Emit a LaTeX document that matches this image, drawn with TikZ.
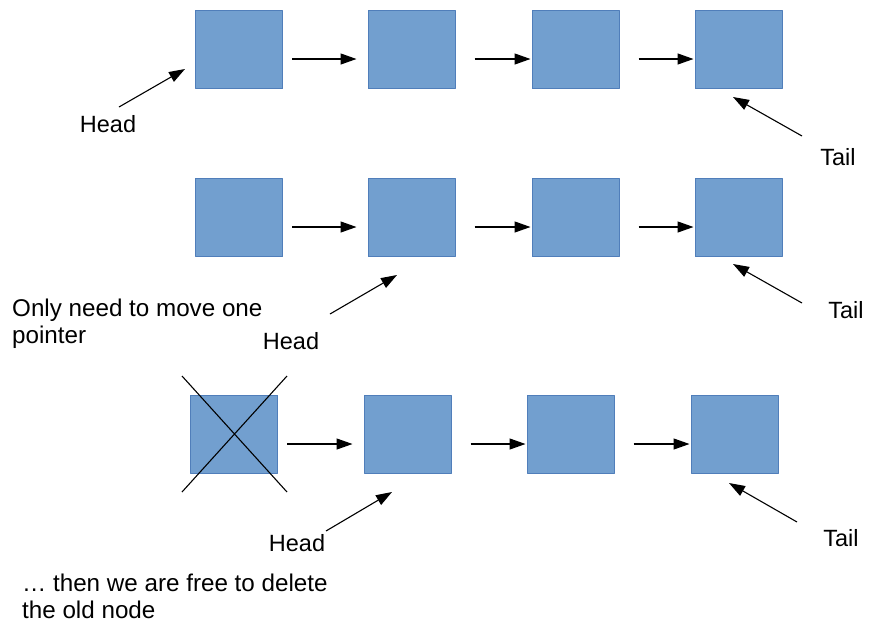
\documentclass[tikz,border=0pt]{standalone}
\usepackage{fontspec}
\setmainfont{Liberation Sans}
\usetikzlibrary{arrows.meta}
\definecolor{boxfill}{RGB}{114,159,207}
\definecolor{boxline}{RGB}{80,126,186}
\begin{document}
\begin{tikzpicture}[x=1pt, y=-1pt, font=\fontsize{23.5}{26.5}\selectfont, line join=round,
	box/.style={draw=boxline, fill=boxfill, line width=1pt, minimum width=87pt, minimum height=78pt, inner sep=0pt},
	link/.style={-{Triangle[length=16pt,width=11pt]}, line width=1.3pt, shorten <=19pt, shorten >=1pt},
	first/.style={shorten <=9pt, shorten >=11pt},
	ptr/.style={-{Triangle[length=16pt,width=11pt]}, line width=1.1pt},
	lbl/.style={inner sep=0pt},
	note/.style={inner sep=0pt, anchor=north west, align=left, font=\fontsize{24.2}{26.5}\selectfont}]
	\useasboundingbox (0,0) rectangle (870,622);
	% the three lists
	\path
	(239,49.5) node[box] (a1) {}
	(411.5,49.5) node[box] (a2) {}
	(575.5,49.5) node[box] (a3) {}
	(738.5,49.5) node[box] (a4) {}

	(239,217.5) node[box] (b1) {}
	(411.5,217.5) node[box] (b2) {}
	(575.5,217.5) node[box] (b3) {}
	(738.5,217.5) node[box] (b4) {}

	(234,434) node[box] (c1) {}
	(407.5,434) node[box] (c2) {}
	(570.5,434) node[box] (c3) {}
	(734.5,434) node[box] (c4) {};
	% next pointers
	\draw[link,first] ([yshift=-9.5pt]a1.east)--([yshift=-9.5pt]a2.west);
	\draw[link] ([yshift=-9.5pt]a2.east)--([yshift=-9.5pt]a3.west);
	\draw[link] ([yshift=-9.5pt]a3.east)--([yshift=-9.5pt]a4.west);
	\draw[link,first] ([yshift=-9.5pt]b1.east)--([yshift=-9.5pt]b2.west);
	\draw[link] ([yshift=-9.5pt]b2.east)--([yshift=-9.5pt]b3.west);
	\draw[link] ([yshift=-9.5pt]b3.east)--([yshift=-9.5pt]b4.west);
	\draw[link,first] ([yshift=-10pt]c1.east)--([yshift=-10pt]c2.west);
	\draw[link] ([yshift=-10pt]c2.east)--([yshift=-10pt]c3.west);
	\draw[link] ([yshift=-10pt]c3.east)--([yshift=-10pt]c4.west);
	% old node crossed out
	\draw[line width=1.1pt] (182,376)--(287,492) (287,376)--(182,492);
	% labels
	\path
	(108,124) node[lbl] (head1) {Head}
	(838,157) node[lbl] (tail1) {Tail}
	(291,341) node[lbl] (head2) {Head}
	(846,310) node[lbl] (tail2) {Tail}
	(297,543) node[lbl] (head3) {Head}
	(841,538) node[lbl] (tail3) {Tail}
	(12,299) node[note] (note1) {Only need to move one\\pointer}
	(22,574) node[note] (note2) {\dots{} then we are free to delete\\the old node};
	% head and tail pointers
	\coordinate (h1s) at (119,107); \coordinate (h1e) at (185,69);
	\coordinate (t1s) at (802,136); \coordinate (t1e) at (733,97);
	\coordinate (h2s) at (330,314); \coordinate (h2e) at (397,275);
	\coordinate (t2s) at (802,303); \coordinate (t2e) at (733,264);
	\coordinate (h3s) at (326,531); \coordinate (h3e) at (392,492);
	\coordinate (t3s) at (797,522); \coordinate (t3e) at (729,483);
	\draw[ptr] (h1s)--(h1e); \draw[ptr] (t1s)--(t1e);
	\draw[ptr] (h2s)--(h2e); \draw[ptr] (t2s)--(t2e);
	\draw[ptr] (h3s)--(h3e); \draw[ptr] (t3s)--(t3e);
\end{tikzpicture}
\end{document}
